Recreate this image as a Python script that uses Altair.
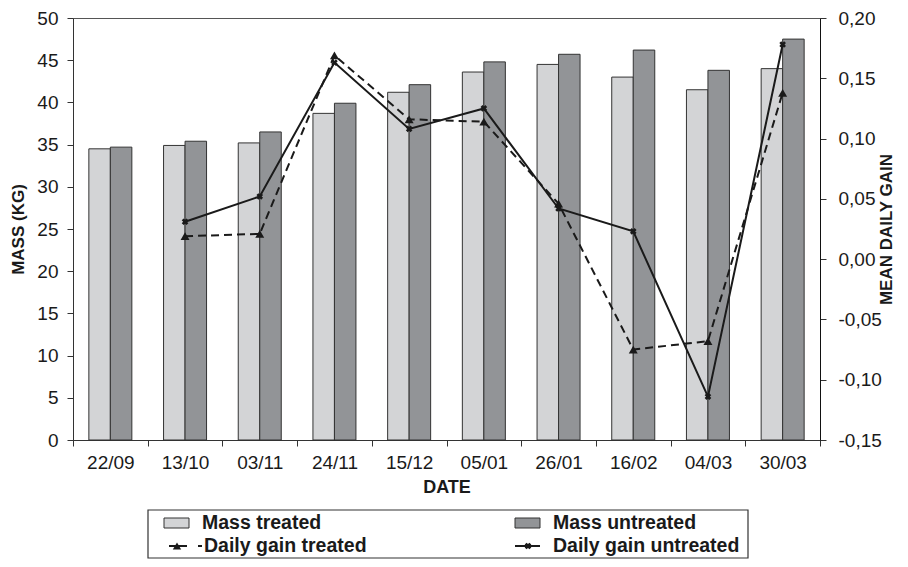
import altair as alt
import pandas as pd

dates = ["22/09", "13/10", "03/11", "24/11", "15/12", "05/01", "26/01", "16/02", "04/03", "30/03"]
mass_treated = [34.5, 34.9, 35.2, 38.7, 41.2, 43.6, 44.5, 43.0, 41.5, 44.0]
mass_untreated = [34.7, 35.4, 36.5, 39.9, 42.1, 44.8, 45.7, 46.2, 43.8, 47.5]
gain_treated = [None, 0.019, 0.021, 0.169, 0.116, 0.114, 0.046, -0.075, -0.068, 0.138]
gain_untreated = [None, 0.031, 0.052, 0.163, 0.108, 0.125, 0.042, 0.023, -0.114, 0.178]

mass_ticks = [0, 5, 10, 15, 20, 25, 30, 35, 40, 45, 50]
gain_ticks = [-0.15, -0.10, -0.05, 0.0, 0.05, 0.10, 0.15, 0.20]

FONT = "Liberation Sans"
LIGHT = "#d3d4d6"
DARK = "#929497"
INK = "#1a1a1a"

mass_rows = []
for d, t, u in zip(dates, mass_treated, mass_untreated):
    mass_rows.append({"date": d, "series": "Mass treated", "mass": t})
    mass_rows.append({"date": d, "series": "Mass untreated", "mass": u})
mass_df = pd.DataFrame(mass_rows)

gt_df = pd.DataFrame([{"date": d, "gain": g} for d, g in zip(dates, gain_treated) if g is not None])
gu_df = pd.DataFrame([{"date": d, "gain": g} for d, g in zip(dates, gain_untreated) if g is not None])

x_enc = alt.X(
    "date:N",
    sort=dates,
    scale=alt.Scale(paddingInner=0, paddingOuter=0),
    axis=alt.Axis(
        title="DATE", labelFont=FONT, labelFontSize=19, labelColor=INK,
        titleFont=FONT, titleFontSize=18, titleFontWeight="bold", titleColor=INK,
        tickBand="extent", tickSize=6, tickColor="#333", domainColor="#333",
        labelPadding=7, titlePadding=6, labelAngle=0,
    ),
)

bars = alt.Chart(mass_df).mark_bar(stroke="#333", strokeWidth=1).encode(
    x=x_enc,
    xOffset=alt.XOffset("series:N", sort=["Mass treated", "Mass untreated"],
                        scale=alt.Scale(paddingInner=0, paddingOuter=0.737)),
    y=alt.Y("mass:Q", scale=alt.Scale(domain=[0, 50], nice=False),
            axis=alt.Axis(title="MASS (KG)", values=mass_ticks, grid=False,
                          labelFont=FONT, labelFontSize=19, labelColor=INK,
                          titleFont=FONT, titleFontSize=17, titleFontWeight="bold", titleColor=INK,
                          tickSize=6, tickColor="#333", domainColor="#333",
                          labelPadding=9, titlePadding=9)),
    color=alt.Color("series:N", scale=alt.Scale(domain=["Mass treated", "Mass untreated"],
                                                range=[LIGHT, DARK]), legend=None),
)

gain_y = alt.Y("gain:Q", scale=alt.Scale(domain=[-0.15, 0.20], nice=False),
               axis=alt.Axis(title="MEAN DAILY GAIN", orient="right", values=gain_ticks, grid=False,
                             labelExpr="replace(replace(format(datum.value, '.2f'), '.', ','), '\u2212', '-')",
                             labelFont=FONT, labelFontSize=19, labelColor=INK,
                             titleFont=FONT, titleFontSize=17, titleFontWeight="bold", titleColor=INK,
                             titleAngle=270, tickSize=6, tickColor="#333", domainColor="#111",
                             labelPadding=12, titlePadding=14))

line_t = alt.Chart(gt_df).mark_line(color=INK, strokeWidth=2, strokeDash=[8, 5]).encode(
    x=alt.X("date:N", sort=dates), y=gain_y)
pts_t = alt.Chart(gt_df).mark_point(shape="triangle-up", filled=True, color=INK, size=80, opacity=1).encode(
    x=alt.X("date:N", sort=dates), y=gain_y)
line_u = alt.Chart(gu_df).mark_line(color=INK, strokeWidth=2).encode(
    x=alt.X("date:N", sort=dates), y=gain_y)
pts_u = alt.Chart(gu_df).mark_point(shape="cross", angle=45, filled=True, color=INK, size=45, opacity=1).encode(
    x=alt.X("date:N", sort=dates), y=gain_y)

gains = alt.layer(line_t, pts_t, line_u, pts_u)

one = alt.Data(values=[{"k": 1}])

legend_box = alt.Chart(one).mark_rect(fill="white", stroke="#333", strokeWidth=1.2).encode(
    x=alt.value(75), x2=alt.value(675), y=alt.value(492), y2=alt.value(540))
sq1 = alt.Chart(one).mark_rect(fill=LIGHT, stroke="#333", strokeWidth=1).encode(
    x=alt.value(91), x2=alt.value(116), y=alt.value(500), y2=alt.value(510))
sq2 = alt.Chart(one).mark_rect(fill=DARK, stroke="#333", strokeWidth=1).encode(
    x=alt.value(442), x2=alt.value(467), y=alt.value(500), y2=alt.value(510))
txt_style = dict(font=FONT, fontSize=19.5, fontWeight="bold", color=INK, align="left", baseline="middle")
t1 = alt.Chart(one).mark_text(text="Mass treated", **txt_style).encode(x=alt.value(129), y=alt.value(505))
t2 = alt.Chart(one).mark_text(text="Mass untreated", **txt_style).encode(x=alt.value(480), y=alt.value(505))
t3 = alt.Chart(one).mark_text(text="Daily gain treated", **txt_style).encode(x=alt.value(131), y=alt.value(528))
t4 = alt.Chart(one).mark_text(text="Daily gain untreated", **txt_style).encode(x=alt.value(480), y=alt.value(528))
r3 = alt.Chart(one).mark_rule(color=INK, strokeWidth=2, strokeDash=[18, 11]).encode(
    x=alt.value(96), x2=alt.value(129), y=alt.value(528))
m3 = alt.Chart(one).mark_point(shape="triangle-up", filled=True, color=INK, size=70, opacity=1).encode(
    x=alt.value(104), y=alt.value(528))
r4 = alt.Chart(one).mark_rule(color=INK, strokeWidth=2).encode(
    x=alt.value(442), x2=alt.value(467), y=alt.value(528))
m4 = alt.Chart(one).mark_point(shape="cross", angle=45, filled=True, color=INK, size=45, opacity=1).encode(
    x=alt.value(455), y=alt.value(528))

chart = alt.layer(
    bars, gains,
    legend_box, sq1, sq2, t1, t2, t3, t4, r3, m3, r4, m4,
).resolve_scale(y="independent").properties(
    width=747, height=422,
    autosize=alt.AutoSizeParams(type="none"),
    padding={"left": 65, "top": 10, "right": 80, "bottom": 119},
    background="white",
).configure_view(stroke="#555", strokeWidth=1)

chart.save("out.html", embed_options={"renderer": "svg", "actions": False})
